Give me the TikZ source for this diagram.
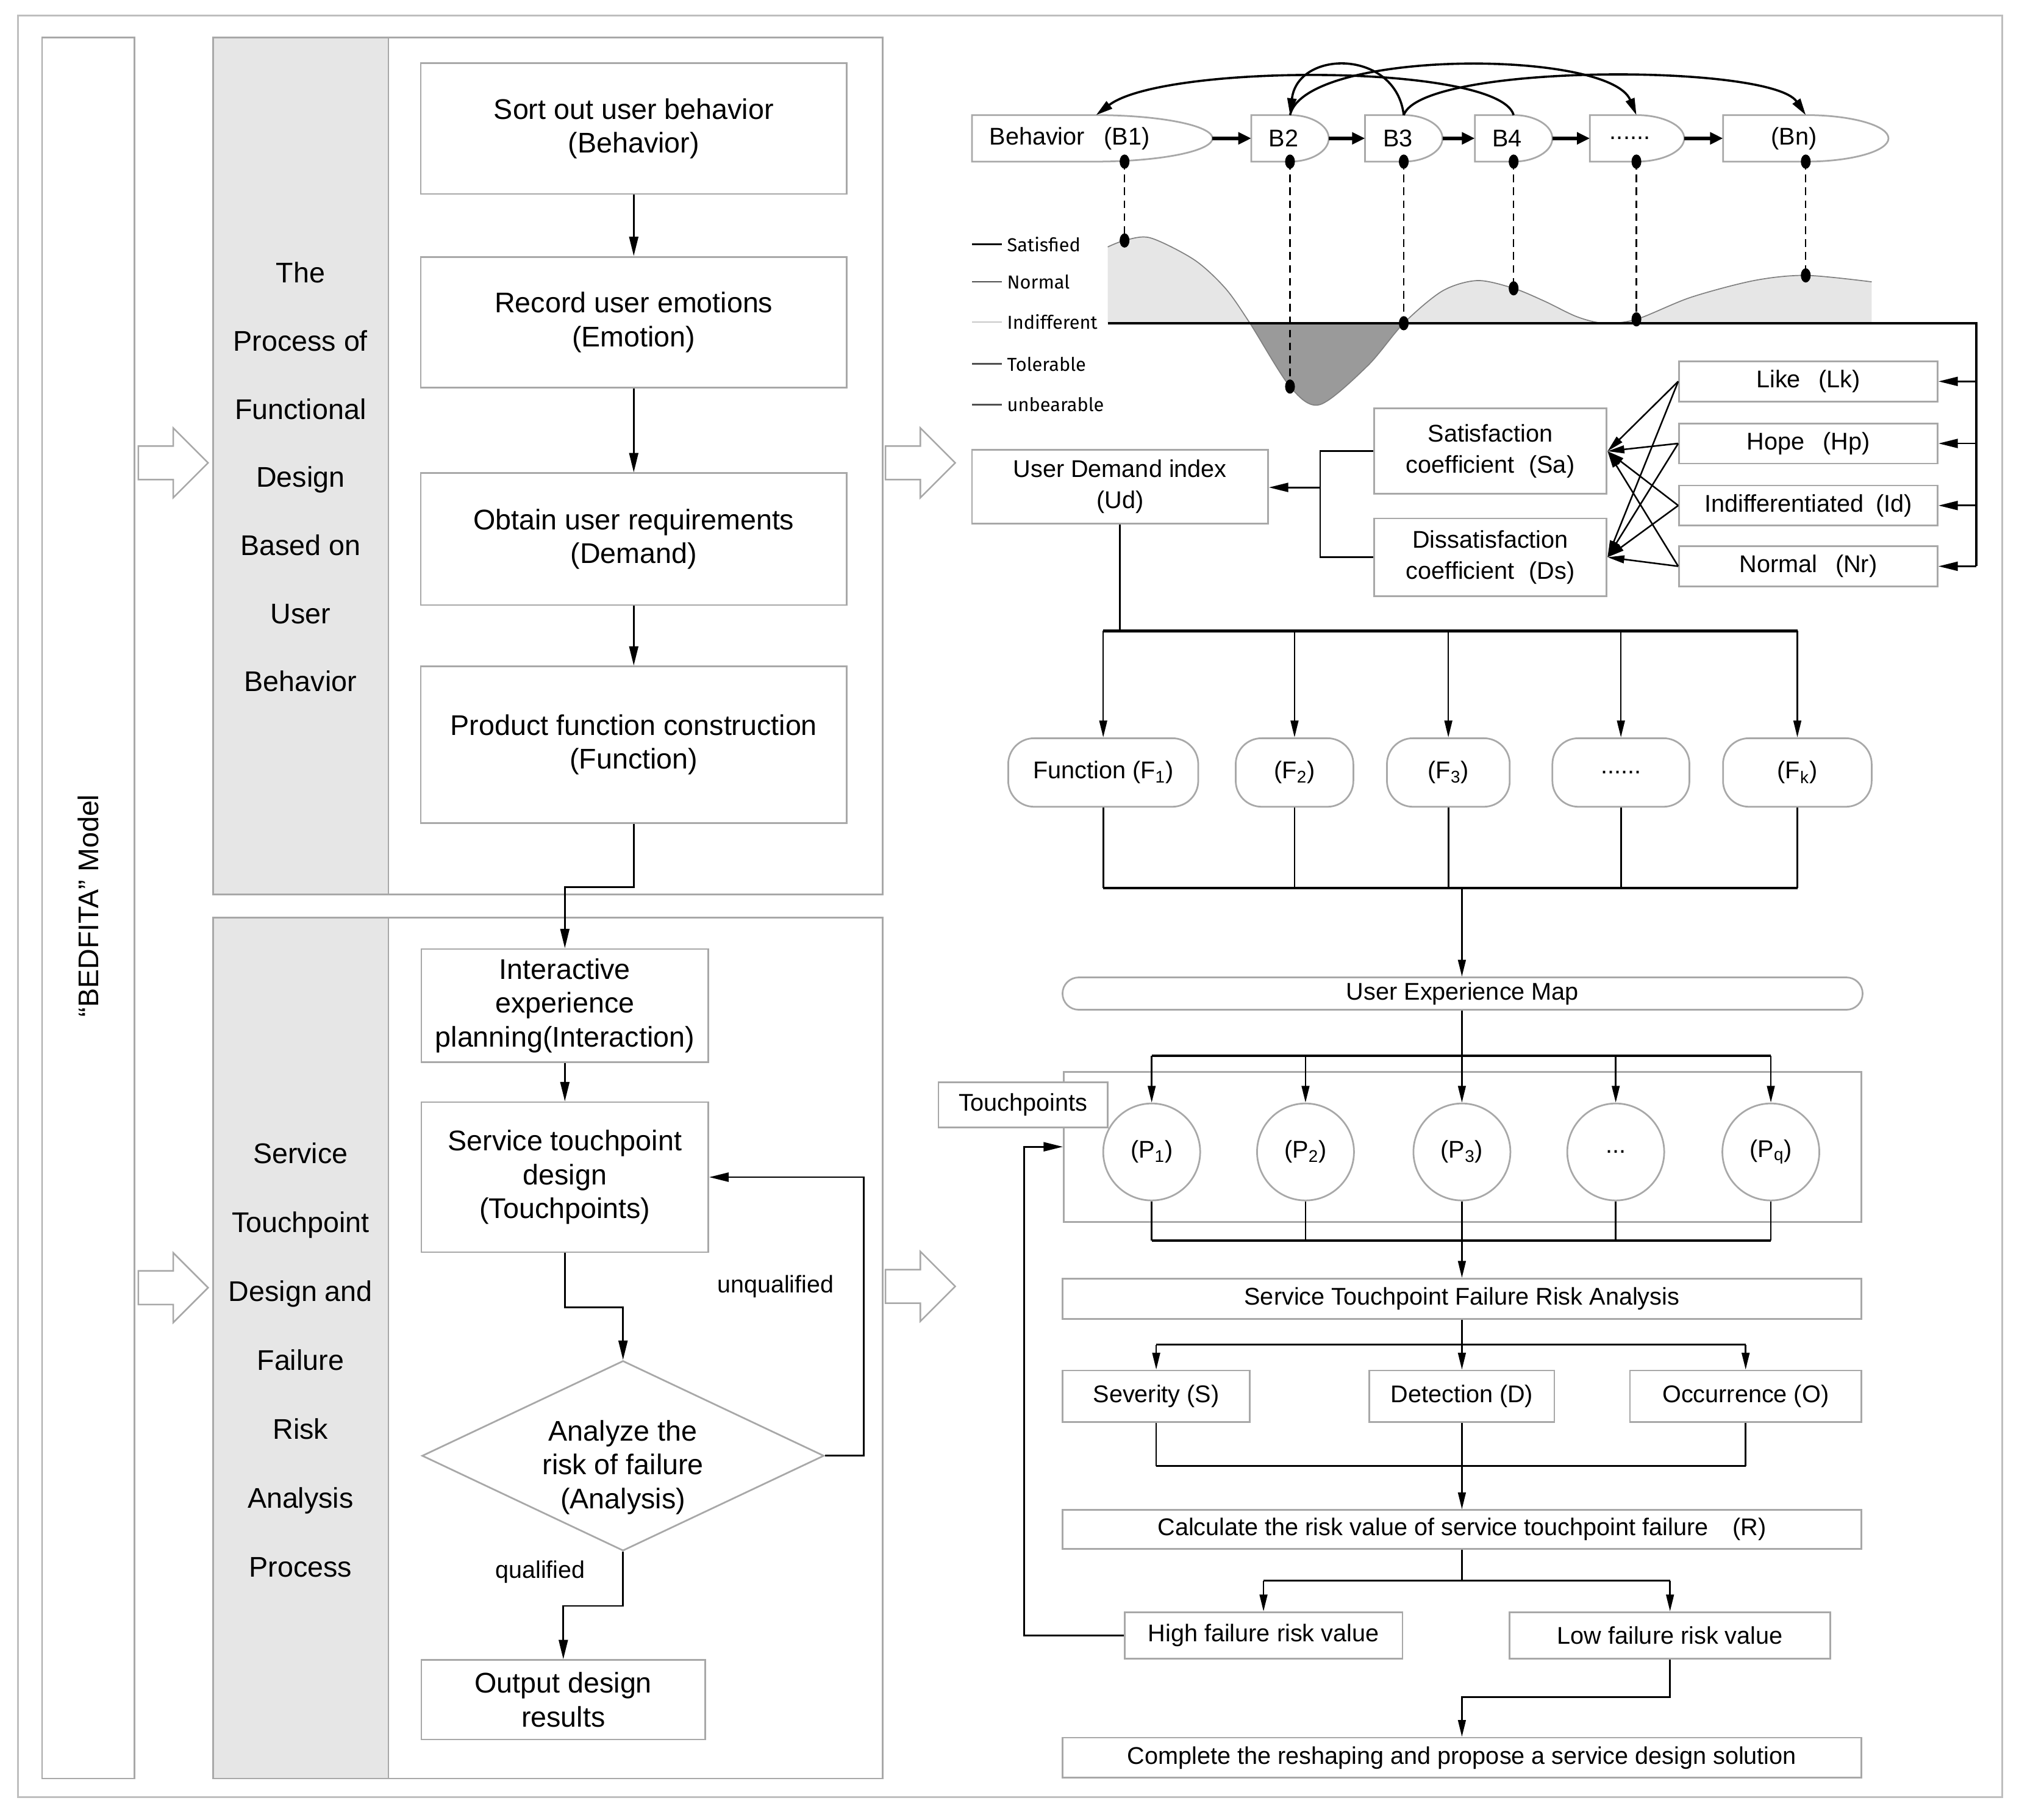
\documentclass[tikz,border=0pt]{standalone}
\usepackage{fontspec}
\setmainfont{Liberation Sans}
\newfontfamily\legfont{Fira Sans}
\usetikzlibrary{arrows.meta,shapes.geometric,calc}
\definecolor{bgray}{HTML}{A8A8A8}
\definecolor{fgray}{HTML}{BEBEBE}
\definecolor{sgray}{HTML}{E6E6E6}
\definecolor{dgray}{HTML}{9A9A9A}
\definecolor{lgray}{HTML}{C8C8C8}
\definecolor{mgray}{HTML}{505050}
\newcommand\behshape[3]{\draw[shapeline] (#1,89) -- (#2,89) .. controls ({#2+0.552*(#3-#2)},89) and (#3,97.06) .. (#3,107) .. controls (#3,116.94) and ({#2+0.552*(#3-#2)},125) .. (#2,125) -- (#1,125) -- cycle;}
\newcommand\hollowarrow[2]{\draw[hollowst] (#1,#2) ++(0,-13) -- ++(27,0) -- ++(0,-14) -- ++(27,27) -- ++(-27,27) -- ++(0,-14) -- ++(-27,0) -- cycle;}
\begin{document}
\begin{tikzpicture}[x=1pt,y=-1pt,
 gbox/.style={draw=bgray, line width=1.3pt, fill=white, inner sep=0pt, align=center, text=black},
 lf/.style={font=\fontsize{22}{26.2}\selectfont},
 rf/.style={font=\fontsize{18.7}{24}\selectfont},
 con/.style={line width=1.3pt, black},
 hbar/.style={line width=2pt, black},
 arr/.style={con, -{Triangle[length=15pt,width=7pt]}},
 sarr/.style={line width=1.2pt, black, -{Triangle[length=13pt,width=6pt]}},
 barr/.style={line width=2.6pt, black, -{Triangle[length=10pt,width=9pt]}},
 arcarr/.style={line width=1.7pt, black, -{Triangle[length=13pt,width=7pt]}},
 shapeline/.style={draw=bgray, line width=1.3pt, fill=white},
 hollowst/.style={draw=bgray, line width=1.2pt, fill=white},
 fbox/.style={gbox, rf, rounded corners=20pt},
 pnode/.style={circle, draw=bgray, line width=1.3pt, fill=white, minimum size=75pt, inner sep=0pt, rf},
 legtext/.style={font=\legfont\fontsize{14.5}{16}\selectfont, anchor=west, inner sep=0pt},
 guide/.style={dash pattern=on 6pt off 4pt, line width=1.1pt, black}
]
\useasboundingbox (0,0) rectangle (1562,1407.3);
\fill[white] (0,0) rectangle (1562,1407.3);
\draw[fgray, line width=1.3pt] (14,12) rectangle (1549,1390);

% ---------------- model column ----------------
\node[gbox, minimum width=71.5pt, minimum height=1346.6pt] (model) at (68.25,702.3) {};
\node[lf, rotate=90] (modeltxt) at (68.5,700.5) {“BEDFITA” Model};

% ---------------- top panel ----------------
\node[gbox, minimum width=518pt, minimum height=663pt] (panA) at (424,360.5) {};
\node[gbox, fill=sgray, minimum width=135.5pt, minimum height=663pt] (sideA) at (232.75,360.5) {};
\node[align=center, font=\fontsize{22}{52.7}\selectfont] (sideAtxt) at (232.5,369) {The\\Process of\\Functional\\Design\\Based on\\User\\Behavior};

\node[gbox, lf, minimum width=329.5pt, minimum height=101pt] (s1) at (490.3,99.5) {Sort out user behavior\\(Behavior)};
\node[gbox, lf, minimum width=329.5pt, minimum height=101pt] (s2) at (490.3,249.2) {Record user emotions\\(Emotion)};
\node[gbox, lf, minimum width=329.5pt, minimum height=102pt] (s3) at (490.3,417) {Obtain user requirements\\(Demand)};
\node[gbox, lf, minimum width=329.5pt, minimum height=121pt] (s4) at (490.3,576) {Product function construction\\(Function)};
\draw[arr] (s1) -- (s2);
\draw[arr] (s2) -- (s3);
\draw[arr] (s3) -- (s4);

% ---------------- bottom panel ----------------
\node[gbox, minimum width=518pt, minimum height=666pt] (panB) at (424,1042.6) {};
\node[gbox, fill=sgray, minimum width=135.5pt, minimum height=666pt] (sideB) at (232.75,1042.6) {};
\node[align=center, font=\fontsize{22}{53.3}\selectfont] (sideBtxt) at (232.5,1052) {Service\\Touchpoint\\Design and\\Failure\\Risk\\Analysis\\Process};

\node[gbox, lf, minimum width=222pt, minimum height=87.5pt] (i1) at (437,777.8) {Interactive\\experience\\planning(Interaction)};
\node[gbox, lf, minimum width=222pt, minimum height=116pt] (i2) at (437,910.5) {Service touchpoint\\design\\(Touchpoints)};
\node[diamond, draw=bgray, line width=1.3pt, fill=white, aspect=2.12, minimum width=311pt, minimum height=147pt, inner sep=0pt] (dia) at (482,1126) {};
\node[lf, align=center] (diatxt) at (482,1135) {Analyze the\\risk of failure\\(Analysis)};
\node[gbox, lf, minimum width=219.6pt, minimum height=61.4pt] (o1) at (435.8,1314.7) {Output design\\results};

\draw[arr] (s4.south) -- ++(0,49) -| (i1.north);
\draw[arr] (i1) -- (i2);
\draw[arr] (i2.south) -- ++(0,42) -| (dia.north);
\draw[arr] (dia.east) -- ++(30,0) |- (i2.east);
\draw[arr] (dia.south) -- ++(0,42) -| (o1.north);
\node[font=\fontsize{18.6}{22}\selectfont] (unq) at (600,995) {unqualified};
\node[font=\fontsize{18.6}{22}\selectfont] (qual) at (418,1216) {qualified};

% ---------------- hollow arrows ----------------
\hollowarrow{107}{358}
\hollowarrow{107}{996}
\hollowarrow{685}{358}
\hollowarrow{685}{995}

% ---------------- emotion curve ----------------
\fill[sgray] plot[smooth] coordinates {(857,191) (870,186) (890,184) (924,201) (948,223) (967,250) (998,299) (1021,313) (1058,283) (1086,250) (1116,225) (1143,217) (1171,223) (1195,233) (1220,245) (1241,250) (1266,247) (1308,230) (1357,217) (1397,213) (1448,218)} -- (1448,250) -- (857,250) -- cycle;
\begin{scope}
\clip (857,251) rectangle (1460,330);
\fill[dgray] plot[smooth] coordinates {(857,191) (870,186) (890,184) (924,201) (948,223) (967,250) (998,299) (1021,313) (1058,283) (1086,250) (1116,225) (1143,217) (1171,223) (1195,233) (1220,245) (1241,250) (1266,247) (1308,230) (1357,217) (1397,213) (1448,218)} -- (1448,250) -- (857,250) -- cycle;
\end{scope}
\draw[gray, line width=0.8pt] plot[smooth] coordinates {(857,191) (870,186) (890,184) (924,201) (948,223) (967,250) (998,299) (1021,313) (1058,283) (1086,250) (1116,225) (1143,217) (1171,223) (1195,233) (1220,245) (1241,250) (1266,247) (1308,230) (1357,217) (1397,213) (1448,218)};

% legend
\draw[black, line width=1.2pt] (752,189) -- (775,189);
\node[legtext] (lgsat) at (779,189) {Satisfied};
\draw[mgray, line width=1.2pt] (752,218) -- (775,218);
\node[legtext] (lgnor) at (779,218) {Normal};
\draw[lgray, line width=1.2pt] (752,249) -- (775,249);
\node[legtext] (lgind) at (779,249) {Indifferent};
\draw[mgray, line width=1.2pt] (752,281.5) -- (775,281.5);
\node[legtext] (lgtol) at (779,281.5) {Tolerable};
\draw[mgray, line width=1.2pt] (752,313) -- (775,313);
\node[legtext] (lgunb) at (779,313) {unbearable};

% ---------------- behavior row ----------------
\behshape{752}{847}{938}
\behshape{968}{998}{1028}
\behshape{1056}{1086}{1116}
\behshape{1141}{1171}{1201}
\behshape{1230}{1266}{1303}
\behshape{1333}{1397}{1461}
\node[rf] (b1) at (827.5,107) {Behavior\hspace{0.8em}(B1)};
\node[rf] (b2) at (993,107) {B2};
\node[rf] (b3) at (1081.5,107) {B3};
\node[rf] (b4) at (1166,107) {B4};
\node[rf] (b5) at (1261,107) {......};
\node[rf] (b6) at (1388,107) {(Bn)};

\coordinate (b1r) at (938,107); \coordinate (b2l) at (968,107);
\coordinate (b2r) at (1028,107); \coordinate (b3l) at (1056,107);
\coordinate (b3r) at (1116,107); \coordinate (b4l) at (1141,107);
\coordinate (b4r) at (1201,107); \coordinate (b5l) at (1230,107);
\coordinate (b5r) at (1303,107); \coordinate (b6l) at (1333,107);
\draw[barr] (b1r) -- (b2l);
\draw[barr] (b2r) -- (b3l);
\draw[barr] (b3r) -- (b4l);
\draw[barr] (b4r) -- (b5l);
\draw[barr] (b5r) -- (b6l);

\coordinate (b1t) at (848,89); \coordinate (b2t) at (998,89);
\coordinate (b3t) at (1086,89); \coordinate (b4t) at (1171,89);
\coordinate (b5t) at (1266,89); \coordinate (b6t) at (1397,89);
\draw[arcarr] (b4t) .. controls (1160,49) and (900,49) .. (b1t);
\draw[arcarr] (b3t) .. controls (1080,38) and (1004,38) .. (b2t);
\draw[arcarr] (b2t) .. controls (1010,38) and (1245,38) .. (b5t);
\draw[arcarr] (b3t) .. controls (1100,49) and (1370,49) .. (b6t);

\coordinate (b1d) at (870,125); \coordinate (b2d) at (998,125);
\coordinate (b3d) at (1086,125); \coordinate (b4d) at (1171,125);
\coordinate (b5d) at (1266,125); \coordinate (b6d) at (1397,125);
\coordinate (c1) at (870,186); \coordinate (c2) at (998,299);
\coordinate (c3) at (1086,250); \coordinate (c4) at (1171,223);
\coordinate (c5) at (1266,247); \coordinate (c6) at (1397,213);
\foreach \i in {1,...,6} {
  \draw[guide] (b\i d) -- (c\i);
  \fill (b\i d) ellipse [x radius=3.8, y radius=5.5];
  \fill (c\i) ellipse [x radius=3.8, y radius=5.5];
}

% ---------------- demand analysis ----------------
\node[gbox, rf, minimum width=229pt, minimum height=57pt] (ud) at (866.5,376.5) {User Demand index\\(Ud)};
\node[gbox, rf, minimum width=180pt, minimum height=66pt] (sa) at (1153,349) {Satisfaction\\coefficient\hspace{0.6em}(Sa)};
\node[gbox, rf, minimum width=180pt, minimum height=60pt] (ds) at (1153,431) {Dissatisfaction\\coefficient\hspace{0.6em}(Ds)};
\node[gbox, rf, minimum width=200pt, minimum height=31pt] (lk) at (1399,295) {Like\hspace{0.75em}(Lk)};
\node[gbox, rf, minimum width=200pt, minimum height=31pt] (hp) at (1399,343) {Hope\hspace{0.75em}(Hp)};
\node[gbox, rf, minimum width=200pt, minimum height=31pt] (id) at (1399,391) {Indifferentiated\hspace{0.5em}(Id)};
\node[gbox, rf, minimum width=200pt, minimum height=31pt] (nr) at (1399,438) {Normal\hspace{0.75em}(Nr)};

\coordinate (vx) at (1529,250);
\draw[line width=2.2pt] (857,250) -- (vx) -- (vx |- nr.east);
\foreach \n in {lk,hp,id,nr} {
  \draw[arr] (vx |- \n.east) -- (\n.east);
  \draw[sarr] (\n.west) -- (sa.east);
  \draw[sarr] (\n.west) -- (ds.east);
}
\draw[con] (sa.west) -- ++(-41,0) coordinate (brk) |- (ds.west);
\coordinate (brkm) at (1022,377);
\draw[arr] (brkm) -- (brkm -| ud.east);

% ---------------- functions ----------------
\node[fbox, minimum width=147pt, minimum height=53pt] (f1) at (853.5,597.5) {Function (F\textsubscript{1})};
\node[fbox, minimum width=91pt, minimum height=53pt] (f2) at (1001.5,597.5) {(F\textsubscript{2})};
\node[fbox, minimum width=95pt, minimum height=53pt] (f3) at (1120.5,597.5) {(F\textsubscript{3})};
\node[fbox, minimum width=106pt, minimum height=53pt] (f4) at (1254,597.5) {......};
\node[fbox, minimum width=115pt, minimum height=53pt] (f5) at (1390.5,597.5) {(F\textsubscript{k})};
\coordinate (ftop) at (866.5,488);
\coordinate (fbot) at (1131,687);
\draw[con] (ud.south) -- (ftop);
\draw[hbar] (f1.north |- ftop) -- (f5.north |- ftop);
\draw[hbar] (f1.south |- fbot) -- (f5.south |- fbot);
\foreach \n in {f1,f2,f3,f4,f5} {
  \draw[sarr] (\n.north |- ftop) -- (\n.north);
  \draw[con] (\n.south) -- (\n.south |- fbot);
}

% ---------------- experience map & touchpoints ----------------
\node[gbox, rf, rounded corners=12.5pt, minimum width=619pt, minimum height=25pt] (uem) at (1131.5,768.5) {User Experience Map};
\draw[sarr] (fbot) -- (fbot |- uem.north);

\node[draw=bgray, line width=1.3pt, minimum width=617pt, minimum height=116pt, inner sep=0pt] (tpf) at (1131.5,887) {};
\node[gbox, rf, minimum width=131pt, minimum height=35pt] (tpl) at (791.5,854.5) {Touchpoints};
\node[pnode] (p1) at (891,891) {(P\textsubscript{1})};
\node[pnode] (p2) at (1010,891) {(P\textsubscript{2})};
\node[pnode] (p3) at (1131,891) {(P\textsubscript{3})};
\node[pnode] (p4) at (1250,891) {...};
\node[pnode] (p5) at (1370,891) {(P\textsubscript{q})};
\coordinate (ptop) at (1131,816.5);
\coordinate (pbot) at (1131,959.5);
\draw[con] (uem.south -| ptop) -- (ptop);
\draw[hbar] (p1.north |- ptop) -- (p5.north |- ptop);
\draw[hbar] (p1.south |- pbot) -- (p5.south |- pbot);
\foreach \n in {p1,p2,p3,p4,p5} {
  \draw[sarr] (\n.north |- ptop) -- (\n.north);
  \draw[con] (\n.south) -- (\n.south |- pbot);
}

% ---------------- risk analysis ----------------
\node[gbox, rf, minimum width=618pt, minimum height=31pt] (stf) at (1131,1004.5) {Service Touchpoint Failure Risk Analysis};
\draw[sarr] (pbot) -- (stf.north);
\node[gbox, rf, minimum width=145pt, minimum height=40pt] (sev) at (894.5,1080) {Severity (S)};
\node[gbox, rf, minimum width=143pt, minimum height=40pt] (det) at (1131,1080) {Detection (D)};
\node[gbox, rf, minimum width=179pt, minimum height=40pt] (occ) at (1350.5,1080) {Occurrence (O)};
\coordinate (rtop) at (1131,1040);
\coordinate (rbot) at (1131,1134);
\draw[con] (stf.south) -- (rtop);
\draw[con] (sev.north |- rtop) -- (occ.north |- rtop);
\foreach \n in {sev,det,occ} {
  \draw[sarr] (\n.north |- rtop) -- (\n.north);
  \draw[con] (\n.south) -- (\n.south |- rbot);
}
\draw[con] (sev.south |- rbot) -- (occ.south |- rbot);
\node[gbox, rf, minimum width=618pt, minimum height=30pt] (calc) at (1131,1183) {Calculate the risk value of service touchpoint failure\hspace{1em}(R)};
\draw[sarr] (rbot) -- (calc.north);
\node[gbox, rf, minimum width=215pt, minimum height=36pt] (high) at (977.5,1265) {High failure risk value};
\node[gbox, rf, minimum width=248pt, minimum height=36pt] (low) at (1292,1265) {Low failure risk value};
\coordinate (hl) at (1131,1222.6);
\draw[con] (calc.south) -- (hl);
\draw[con] (high.north |- hl) -- (low.north |- hl);
\draw[sarr] (high.north |- hl) -- (high.north);
\draw[sarr] (low.north |- hl) -- (low.north);
\node[gbox, rf, minimum width=618pt, minimum height=31pt] (comp) at (1131,1359.5) {Complete the reshaping and propose a service design solution};
\draw[sarr] (low.south) -- ++(0,29) -| (comp.north);
\draw[arr] (high.west) -- ++(-77,0) |- (tpf.west);
\end{tikzpicture}
\end{document}
